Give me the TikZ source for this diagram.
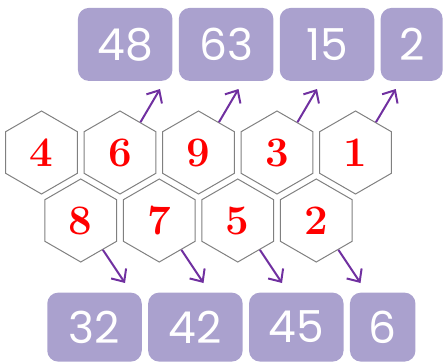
\documentclass[tikz,border=0pt]{standalone}
\usepackage{fontspec}
\newfontfamily\boxfont{Poppins}
\usetikzlibrary{shapes.geometric, arrows.meta, positioning}
\definecolor{boxlilac}{HTML}{AAA1CE}
\definecolor{arrowpurple}{HTML}{7030A0}
\definecolor{hexgray}{HTML}{808080}
\tikzset{
    hexa/.style={
        regular polygon, regular polygon sides=6, shape border rotate=30,
        minimum size=83pt, inner sep=0pt, draw=hexgray, line width=1pt,
        text=red, font=\fontsize{42}{42}\selectfont\bfseries
    },
    prodbox/.style={
        rounded corners=11pt, fill=boxlilac, text=white,
        minimum width=94.5pt, minimum height=73pt, inner sep=0pt,
        font=\boxfont\fontsize{44}{44}\selectfont
    },
    prodarrow/.style={
        draw=arrowpurple, line width=2pt,
        -{Straight Barb[length=10pt, width=18pt, line width=2pt]}
    }
}

\begin{document}
\begin{tikzpicture}[x=1pt, y=-1pt]
    % 0. frame
    \useasboundingbox (0,0) rectangle (443,362);
    % 1. hexagons, upper row
    \foreach \d [count=\i from 0] in {4,6,9,3,1}
        \node[hexa] (h\d) at (41.5+78.5*\i, 152.5) {\d};
    % 2. hexagons, lower row
    \foreach \d [count=\i from 0] in {8,7,5,2}
        \node[hexa] (h\d) at (80.75+78.5*\i, 220.5) {\d};
    % 3. products, top
    \node[prodbox] (b48) at (125.2, 44.4) {48};
    \node[prodbox, right=6pt of b48] (b63) {63};
    \node[prodbox, right=6pt of b63] (b15) {15};
    \node[prodbox, right=6pt of b15, minimum width=62pt] (b2) {2};
    % 4. products, bottom
    \node[prodbox, minimum height=69pt] (b32) at (94.5, 327.1) {32};
    \node[prodbox, minimum height=69pt, right=6pt of b32] (b42) {42};
    \node[prodbox, minimum height=69pt, right=6pt of b42] (b45) {45};
    \node[prodbox, minimum height=69pt, right=6pt of b45, minimum width=65.5pt] (b6) {6};
    % 5. arrow tips
    \coordinate (t48) at (160, 89);
    \coordinate (t63) at (238.5, 89);
    \coordinate (t15) at (317, 89);
    \coordinate (t2) at (395.7, 89);
    \coordinate (t32) at (125, 283);
    \coordinate (t42) at (203.5, 283);
    \coordinate (t45) at (282, 283);
    \coordinate (t6) at (360.5, 283);
    % 6. arrows
    \draw[prodarrow] (h6.56) -- (t48);
    \draw[prodarrow] (h9.56) -- (t63);
    \draw[prodarrow] (h3.56) -- (t15);
    \draw[prodarrow] (h1.56) -- (t2);
    \draw[prodarrow] (h8.-53) -- (t32);
    \draw[prodarrow] (h7.-53) -- (t42);
    \draw[prodarrow] (h5.-53) -- (t45);
    \draw[prodarrow] (h2.-53) -- (t6);
\end{tikzpicture}
\end{document}
